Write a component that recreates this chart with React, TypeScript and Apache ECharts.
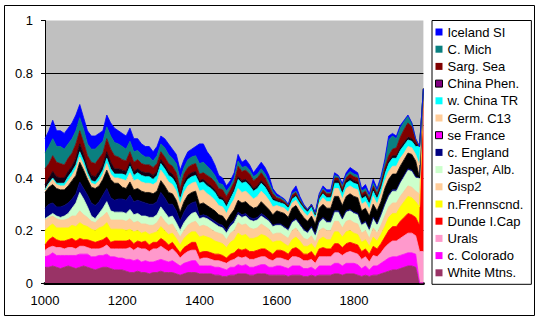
import React, { useEffect, useRef } from 'react';
import * as echarts from 'echarts';

// Years 1000..1980, one category per decade
const years: string[] = Array.from({ length: 99 }, (_, i) => String(1000 + i * 10));
const labelYears = ['1000', '1200', '1400', '1600', '1800'];

// Band thicknesses, in hundredths of the y axis
const whiteMtns = [
  6, 6, 6.5, 6, 5.5, 6, 6.5, 6, 5.5, 6, 6.5, 6, 5.5, 5, 5.5, 6, 6, 5.5, 5, 5,
  5, 4.5, 4, 4, 4.5, 4, 4, 3.5, 4, 4, 4.5, 4, 4, 4, 3.5, 3, 3.5, 4, 4, 4,
  3.5, 3.5, 3.5, 3.5, 3, 3, 2.5, 2.5, 3, 3, 3.5, 3.5, 3.5, 3, 3, 3.5, 3.5, 3.5, 3, 3,
  3, 3, 3, 2.5, 3, 3, 3, 2.5, 2.5, 3, 2.5, 3, 3, 3, 3, 3.5, 3.5, 3, 3.5, 3.5,
  3.5, 3, 2.5, 3, 2.5, 3, 3, 3.5, 4, 4.5, 5, 5, 5.5, 6, 6.5, 6.5, 6, 0, 0,
];
const cColorado = [
  4, 4.5, 5, 4.5, 5, 4.5, 4, 4.5, 5, 5, 4.5, 5, 4.5, 5, 5, 4.5, 5, 4.5, 5, 4.5,
  4.5, 4.5, 5, 4.5, 4.5, 4, 4.5, 4.5, 4, 4.5, 4.5, 4.5, 4, 4.5, 4, 3.5, 4, 4, 4.5, 4.5,
  3, 3, 3, 3, 3, 3, 3, 2.5, 3, 3, 3.5, 3, 3.5, 3, 3, 3, 3.5, 3.5, 3, 3,
  3.5, 3.5, 3, 3, 3.5, 3.5, 3.5, 3, 3, 3, 2.5, 3.5, 3.5, 3.5, 3.5, 4, 4, 3.5, 4, 4,
  4, 4, 3, 3.5, 2.5, 3.5, 3.5, 4, 4.5, 5, 5, 5, 5, 5, 5, 5, 5, 0, 0,
];
const urals = [
  2.5, 3, 2.5, 3, 3, 2.5, 3, 3, 2.5, 3, 3, 2.5, 3, 3, 2.5, 3, 3.5, 3, 3, 3.5,
  3.5, 4, 4.5, 4, 4.5, 5, 4.5, 4, 5, 4.5, 5, 4.5, 4, 4.5, 4, 3, 3.5, 4, 4, 4,
  2.5, 3, 3, 2.5, 2.5, 2.5, 2.5, 2.5, 2.5, 3, 3, 3, 3, 3, 3, 3, 3, 3, 3, 2.5,
  3, 3, 3, 3, 3.5, 3.5, 3, 3, 3, 3, 2.5, 3.5, 3.5, 3.5, 3.5, 4, 4, 4, 4, 4.5,
  4, 4, 3.5, 3.5, 3, 4, 3.5, 4, 5, 5.5, 6, 6, 6.5, 7, 7.5, 7.5, 7, 12, 12,
];
const dundeICap = [
  2, 3, 3.5, 3, 2.5, 3, 3, 3.5, 3, 3, 2.5, 3, 3, 2.5, 3, 3, 3, 2.5, 3, 3,
  3, 3, 3, 2.5, 2.5, 2.5, 3, 2.5, 2.5, 2.5, 3, 3, 2.5, 2.5, 2, 2, 2.5, 2.5, 3, 3,
  2.5, 2.5, 2.5, 2.5, 2.5, 2.5, 2.5, 2, 2.5, 2.5, 3, 3, 3, 3, 3, 3, 3, 3, 3, 2.5,
  3, 3, 3, 2.5, 3, 3.5, 3, 2.5, 2.5, 3, 2.5, 3, 3.5, 3, 3, 3.5, 3.5, 3, 3.5, 3.5,
  3.5, 3.5, 3, 3, 3, 3.5, 3, 3.5, 4, 5, 5.5, 5.5, 6.5, 7, 7.5, 7, 7, 10, 62,
];
const nFennscnd = [
  5.5, 5, 5, 4.5, 5, 5, 4.5, 5, 5.5, 6, 5.5, 5, 4.5, 4.5, 5, 5, 5.5, 5, 4.5, 4.5,
  4.5, 4, 4, 4.5, 4, 3.5, 3.5, 4, 3.5, 4, 4.5, 4, 4, 3.5, 3.5, 3, 3.5, 4, 4, 4,
  6, 6, 5.5, 5.5, 5, 4.5, 4.5, 4, 4.5, 5, 6, 5.5, 5.5, 5, 5, 5, 5.5, 5, 5, 4.5,
  3.5, 3.5, 3, 3, 3.5, 4, 3.5, 3, 3, 3, 3, 3.5, 4, 3.5, 3.5, 4.5, 4.5, 4, 4.5, 4.5,
  4, 4, 3.5, 3.5, 3, 3.5, 3, 3.5, 4, 5, 5, 5, 5.5, 6, 6.5, 6.5, 6, 7, 0,
];
const gisp2 = [
  4, 3.5, 3, 3.5, 3, 3, 3.5, 3.5, 4, 4.5, 4, 3.5, 3, 3, 3.5, 4, 4, 3.5, 3.5, 3.5,
  3.5, 3.5, 4, 3.5, 3.5, 3.5, 3, 3.5, 3, 3.5, 4, 3.5, 3.5, 3.5, 3, 3, 3, 3.5, 3.5, 4,
  4, 4, 4, 3.5, 3.5, 3.5, 3.5, 3, 3.5, 3.5, 4, 4, 4, 4, 3.5, 3.5, 4, 3.5, 3.5, 3,
  3, 3, 3, 3, 3.5, 3.5, 3, 3, 2.5, 3, 2.5, 3.5, 3.5, 3.5, 3.5, 4, 4, 3.5, 4, 4,
  4, 4, 3.5, 3.5, 3, 3.5, 3, 3.5, 4, 4, 4, 4, 4, 4, 4, 4, 4, 5, 0,
];
const jasperAlb = [
  0.5, 0.5, 1, 1, 1, 1.5, 2, 3, 5, 7, 6, 4, 2, 1.5, 2, 3, 4, 3.5, 3, 3,
  3, 3, 3.5, 3, 3, 3, 3, 3, 3, 3, 3.5, 3.5, 3, 3, 3, 2.5, 3, 3, 3.5, 3.5,
  3, 3, 3, 3, 3, 2.5, 2.5, 2.5, 2.5, 3, 3, 3, 3, 3, 3, 3, 3, 3, 3, 3,
  3, 3, 3, 3, 3, 3, 3, 3, 2.5, 3, 2.5, 3, 3.5, 3, 3, 3.5, 3.5, 3, 3.5, 3.5,
  3.5, 3.5, 3, 3, 3, 3.5, 3, 3.5, 4, 4, 4.5, 4.5, 5, 5.5, 6, 6, 5, 6, 0,
];
const cEngland = [
  4, 4.5, 4, 3.5, 4, 4, 4, 3.5, 3.5, 4, 4, 4.5, 5, 5, 4.5, 5, 5, 5, 4.5, 5,
  5, 5, 5.5, 5, 5, 5.5, 5, 5, 5, 5, 5.5, 5.5, 5, 4.5, 4.5, 3.5, 4, 4.5, 4, 4,
  1, 1, 1, 1, 1, 1, 1, 1, 1, 1, 1, 1, 1, 1, 1, 1, 1, 1, 0.5, 0.5,
  0.5, 0.5, 0.5, 0.5, 0.5, 0.5, 0.5, 0.5, 0.5, 0.5, 0.5, 0.5, 0.5, 0.5, 0.5, 0.5, 0.5, 0.5, 0.5, 0.5,
  0.5, 0.5, 0.5, 0.5, 0.5, 0.5, 0.5, 0.5, 0.5, 0.5, 0.5, 0.5, 0.5, 0.5, 0.5, 0.5, 0.5, 0, 0,
];
const seFrance = [
  6, 6.5, 7, 7, 6.5, 6, 6.5, 7, 7, 7.5, 7, 6, 6, 6.5, 6, 6, 7, 7, 6.5, 6,
  4.5, 4.5, 5, 4.5, 4.5, 4, 4, 4.5, 4, 4, 4.5, 4.5, 4.5, 4, 4, 3.5, 4, 4, 4, 4,
  4.5, 4.5, 4, 4, 4, 3.5, 3.5, 3.5, 3.5, 4, 4.5, 4.5, 4.5, 4.5, 4, 4, 4.5, 4, 4, 4,
  5, 4.5, 5, 4.5, 5, 5, 4.5, 4.5, 4, 4, 4, 5, 5, 5, 5, 5.5, 5.5, 5, 5.5, 6,
  6, 6, 5, 5, 5, 5, 5, 5, 6, 6, 6, 6, 6, 6, 6, 6, 6, 0, 0,
];
const germC13 = [
  1, 1.5, 2, 1.5, 1.5, 1.5, 2, 2, 2.5, 2, 2, 1.5, 1.5, 1.5, 2, 2, 2.5, 2, 2, 2,
  3, 3, 3.5, 3.5, 3.5, 3.5, 3.5, 3.5, 3.5, 3.5, 4, 4, 4, 3.5, 3.5, 3, 3.5, 3.5, 3.5, 3.5,
  5, 5, 4.5, 4.5, 4, 3.5, 3.5, 3, 3.5, 4, 4.5, 4, 4, 4, 3.5, 4, 4, 4, 3.5, 3,
  2, 2, 2, 2, 2, 2, 2, 2, 2, 2, 2, 2, 2.5, 2.5, 2.5, 3, 3, 2.5, 3, 3,
  3, 3, 2.5, 2.5, 2.5, 3, 2.5, 3, 3, 3, 3, 3, 3, 2.5, 2.5, 2.5, 2.5, 5, 0,
];
const wChinaTR = [
  0, 0, 0.5, 0.5, 1, 1, 1.5, 1.5, 1.5, 2, 1.5, 1, 1, 1, 1.5, 1.5, 2, 2, 1.5, 1.5,
  2, 2, 2.5, 2, 2.5, 2.5, 2.5, 2.5, 2, 2.5, 2.5, 2.5, 2.5, 2.5, 2.5, 2, 2.5, 2.5, 2.5, 2.5,
  3, 3, 3, 3, 3, 2.5, 2.5, 2.5, 2.5, 3, 3.5, 3.5, 3.5, 3.5, 3, 3, 3, 3, 2.5, 2.5,
  1.5, 1.5, 1.5, 1.5, 1.5, 1.5, 1.5, 1.5, 1.5, 1.5, 1, 1.5, 1.5, 1.5, 1.5, 2, 2, 2, 2, 2,
  2, 2, 2, 2, 2, 2, 2, 2, 2.5, 3, 3, 3, 3, 3, 2.5, 2.5, 3, 7, 0,
];
const chinaPhen = [
  2, 2, 2.5, 2.5, 2, 2, 2, 2, 2.5, 3, 2.5, 2, 2, 2, 2, 2, 2.5, 2.5, 2, 2,
  1.5, 1.5, 1.5, 1.5, 1.5, 1.5, 1.5, 1.5, 1.5, 1.5, 1.5, 1.5, 1.5, 1.5, 1.5, 1, 1.5, 1.5, 1.5, 1.5,
  1, 1, 1, 1, 1, 1, 1, 1, 1, 1, 1, 1, 1, 1, 1, 1, 1, 1, 1, 1,
  0.5, 0.5, 0.5, 0.5, 0.5, 0.5, 0.5, 0.5, 0.5, 0.5, 0.5, 0.5, 0.5, 0.5, 0.5, 1, 1, 1, 1, 1,
  1, 1, 1, 1, 1, 1, 1, 1, 1, 1, 1, 1, 1, 1, 1, 1, 1, 0, 0,
];
const sargSea = [
  6, 5.5, 6, 5.5, 5.5, 5, 5, 5, 5.5, 5, 4.5, 4.5, 5, 5, 5, 4.5, 5, 5, 5, 4.5,
  4, 4, 4, 3.5, 3.5, 3, 3, 3, 3, 3, 3, 3, 3, 3, 3, 3, 3, 3, 3, 3,
  2.5, 2.5, 3, 3, 3, 3, 3, 3, 2.5, 2.5, 4, 3.5, 3.5, 3.5, 3, 3, 3, 2.5, 2, 1.5,
  1, 1, 0.5, 0.5, 1, 1, 0.5, 0.5, 0.5, 0.5, 0.5, 0.5, 1, 1, 1, 1, 1, 1, 1, 1.5,
  1.5, 1.5, 1, 1, 1, 1, 1, 1, 1.5, 2, 2.5, 3, 4, 5, 5.5, 4.5, 1.5, 0, 0,
];
const cMich = [
  6, 6.5, 6.5, 6, 6.5, 6, 5.5, 5.5, 5, 5, 5, 4.5, 5, 5.5, 5, 4.5, 4.5, 5, 5, 5,
  5, 4.5, 4, 4, 3.5, 3.5, 3, 3, 2.5, 3, 3, 3.5, 3.5, 3, 3.5, 3.5, 2.5, 3, 3, 3,
  4, 4, 3.5, 3, 2.5, 2, 2, 2, 1.5, 1.5, 2, 1.5, 1.5, 1.5, 1.5, 1.5, 1.5, 1.5, 1.5, 1,
  0.5, 0.5, 0.5, 0.5, 0.5, 0.5, 0.5, 0, 0, 0, 0, 0.5, 0.5, 0.5, 0.5, 1, 0.5, 1, 1, 1,
  1, 1, 1, 1, 1, 1, 1, 1.5, 2, 6, 5, 3.5, 3.5, 3, 2.5, 1.5, 0.5, 0, 0,
];
const icelandSI = [
  5.5, 6, 7, 6, 6, 6, 6, 6, 6, 5, 4.5, 5, 5, 5, 4.5, 4, 4.5, 5, 5.5, 5,
  5, 5, 5, 5, 4.5, 4, 4, 4, 3.5, 3.5, 3, 3.5, 4, 3.5, 3.5, 3.5, 3, 3, 3, 3.5,
  7.5, 7, 5.5, 5, 4, 3, 2.5, 2, 2, 2, 2.5, 2, 2.5, 2, 1.5, 2.5, 2.5, 2.5, 2.5, 1,
  1, 0.5, 0.5, 0, 1, 2, 1, 0.5, 0, 0, 0.5, 0.5, 1, 1, 1, 1, 0.5, 1, 1, 1.5,
  1.5, 1, 1, 1.5, 1, 1.5, 1, 1, 1, 1.5, 1, 1, 1, 0.5, 0.5, 0, 0, 0, 0,
];

const FONT = '"Liberation Sans", Arial, Helvetica, sans-serif';

// bottom of the stack first
const bands = [
  { name: 'White Mtns.', data: whiteMtns, color: '#993366' },
  { name: 'c. Colorado', data: cColorado, color: '#FF00FF' },
  { name: 'Urals', data: urals, color: '#FF99CC' },
  { name: 'Dunde I.Cap', data: dundeICap, color: '#FF0000' },
  { name: 'n.Frennscnd.', data: nFennscnd, color: '#FFFF00' },
  { name: 'Gisp2', data: gisp2, color: '#FFCC99' },
  { name: 'Jasper, Alb.', data: jasperAlb, color: '#CCFFCC' },
  { name: 'c. England', data: cEngland, color: '#000080' },
  { name: 'se France', data: seFrance, color: '#000000', legendColor: '#FF00FF' },
  { name: 'Germ. C13', data: germC13, color: '#FFCC99' },
  { name: 'w. China TR', data: wChinaTR, color: '#00FFFF' },
  { name: 'China Phen.', data: chinaPhen, color: '#140014', legendColor: '#800080' },
  { name: 'Sarg. Sea', data: sargSea, color: '#800000' },
  { name: 'C. Mich', data: cMich, color: '#0A8080' },
  { name: 'Iceland SI', data: icelandSI, color: '#0000FF' },
];

export default function App() {
  const ref = useRef<HTMLDivElement>(null);
  useEffect(() => {
    if (!ref.current) return;
    const chart = echarts.init(ref.current, undefined, { renderer: 'svg' });
    const option: any = {
      animation: false,
      backgroundColor: '#ffffff',
      textStyle: { fontFamily: FONT },
      grid: {
        left: 45,
        right: 114.6,
        top: 20.5,
        bottom: 37,
        show: true,
        backgroundColor: '#C0C0C0',
        borderWidth: 0,
      },
      xAxis: {
        type: 'category',
        data: years,
        boundaryGap: false,
        offset: 1.5,
        axisLine: { show: true, lineStyle: { color: '#000', width: 3 } },
        axisTick: { show: false },
        axisLabel: {
          interval: (_: number, value: string) => labelYears.includes(value),
          margin: 9,
          fontSize: 13,
          color: '#000',
          fontFamily: FONT,
        },
        splitLine: { show: false },
      },
      yAxis: {
        type: 'value',
        min: 0,
        max: 1,
        interval: 0.2,
        axisLine: { show: true, lineStyle: { color: '#000', width: 1 } },
        axisTick: { show: true, length: 4, lineStyle: { color: '#000' } },
        axisLabel: { margin: 12, fontSize: 13, color: '#000', fontFamily: FONT },
        splitLine: {
          show: true,
          showMinLine: false,
          showMaxLine: false,
          lineStyle: { color: '#000', width: 1 },
        },
      },
      legend: {
        orient: 'vertical',
        left: 432,
        top: 20.5,
        padding: [5, 8, 5, 3],
        itemWidth: 7,
        itemHeight: 7,
        itemGap: 4.2,
        icon: 'rect',
        backgroundColor: '#fff',
        borderColor: '#000',
        borderWidth: 1,
        selectedMode: false,
        textStyle: { fontSize: 13, color: '#000', fontFamily: FONT, lineHeight: 13 },
        data: [...bands].reverse().map((b) => ({
          name: b.name,
          itemStyle: b.legendColor
            ? { color: b.legendColor, borderColor: '#000', borderWidth: 1 }
            : { color: b.color },
        })),
      },
      graphic: [
        {
          type: 'rect',
          silent: true,
          z: 100,
          shape: { x: 4.5, y: 5.5, width: 530, height: 310 },
          style: { fill: 'none', stroke: '#000', lineWidth: 1 },
        },
      ],
      series: bands.map((b) => ({
        name: b.name,
        type: 'line',
        stack: 'total',
        data: b.data.map((v) => v / 100),
        symbol: 'none',
        showSymbol: false,
        silent: true,
        color: b.color,
        itemStyle: { color: b.color },
        lineStyle: { width: 0.8, color: b.color },
        areaStyle: { color: b.color, opacity: 1 },
        emphasis: { disabled: true },
      })),
    };
    chart.setOption(option);
    return () => chart.dispose();
  }, []);
  return (
    <div
      ref={ref}
      style={{ position: 'absolute', left: 0, top: 0, width: 538, height: 320 }}
    />
  );
}
